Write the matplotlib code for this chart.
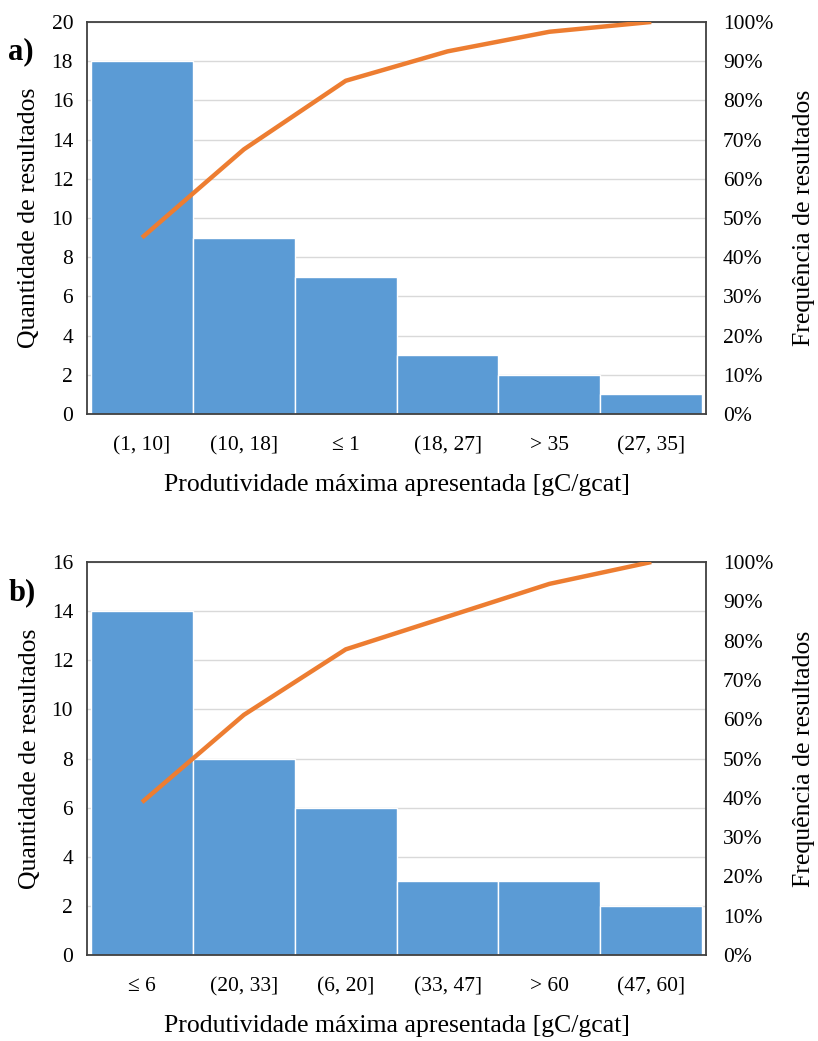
import matplotlib.pyplot as plt
import numpy as np
from matplotlib.ticker import PercentFormatter

plt.rcParams['font.family'] = ['Liberation Serif', 'DejaVu Serif']

# data
cats_a = ['(1, 10]', '(10, 18]', '≤ 1', '(18, 27]', '> 35', '(27, 35]']
counts_a = [18, 9, 7, 3, 2, 1]
cats_b = ['≤ 6', '(20, 33]', '(6, 20]', '(33, 47]', '> 60', '(47, 60]']
counts_b = [14, 8, 6, 3, 3, 2]

bar_color = '#5B9BD5'
line_color = '#ED7D31'

fig = plt.figure(figsize=(8.18, 10.41), dpi=100)


def pareto(ax, cats, counts, ymax, ystep, tag, tag_y):
    x = np.arange(len(cats))
    cum = np.cumsum(counts) / np.sum(counts) * 100
    ax.bar(x, counts, width=1.0, color=bar_color, edgecolor='white', linewidth=1.0, zorder=2)
    ax.set_xlim(-0.54, len(cats) - 0.46)
    ax.set_ylim(0, ymax)
    ax.set_yticks(np.arange(0, ymax + 1, ystep))
    ax.set_xticks(x)
    ax.set_xticklabels(cats)
    ax.grid(axis='y', color='#d9d9d9', linewidth=1.0, zorder=0)
    ax.set_axisbelow(True)
    ax.tick_params(axis='both', length=0, labelsize=15.5)
    ax.tick_params(axis='x', pad=16)
    ax.tick_params(axis='y', pad=10)
    for s in ax.spines.values():
        s.set_color('#404040')
        s.set_linewidth(1.3)
    ax.set_ylabel('Quantidade de resultados', fontsize=18.5, labelpad=8)
    ax.set_xlabel('Produtividade máxima apresentada [gC/gcat]', fontsize=18.5, labelpad=13)

    ax2 = ax.twinx()
    ax2.plot(x, cum, color=line_color, linewidth=3.2, solid_capstyle='butt', zorder=3)
    ax2.set_ylim(0, 100)
    ax2.set_yticks(np.arange(0, 101, 10))
    ax2.yaxis.set_major_formatter(PercentFormatter(decimals=0))
    ax2.tick_params(axis='y', length=0, labelsize=15.5, pad=12)
    for s in ax2.spines.values():
        s.set_visible(False)
    ax2.set_ylabel('Frequência de resultados', fontsize=18.5, labelpad=14)

    fig.text(0.010, tag_y, tag, fontsize=22, fontweight='bold', ha='left', va='center')


ax_a = fig.add_axes([0.1064, 0.6023, 0.757, 0.3766])
pareto(ax_a, cats_a, counts_a, 20, 2, 'a)', 0.950)

ax_b = fig.add_axes([0.1064, 0.0826, 0.757, 0.3775])
pareto(ax_b, cats_b, counts_b, 16, 2, 'b)', 0.431)

fig.savefig('out.png', dpi=100)
